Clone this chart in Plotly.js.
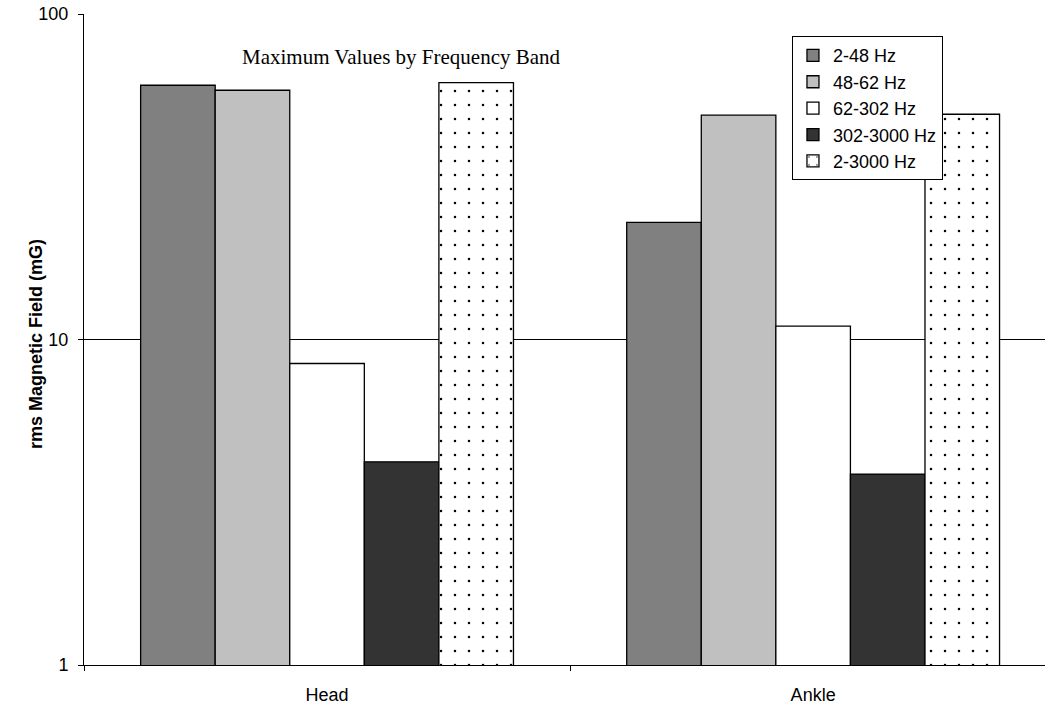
<!DOCTYPE html>
<html>
<head>
<meta charset="utf-8">
<script src="https://cdn.plot.ly/plotly-3.0.1.min.js"></script>
<style>
html,body{margin:0;padding:0;background:#fff;overflow:hidden;}
#chart{width:1045px;height:708px;}
</style>
</head>
<body>
<div id="chart"></div>
<script>
const categories = ["Head", "Ankle"];
const seriesNames = ["2-48 Hz", "48-62 Hz", "62-302 Hz", "302-3000 Hz", "2-3000 Hz"];
const band_2_48 = [60.4, 22.9];
const band_48_62 = [58.3, 48.9];
const band_62_302 = [8.44, 11.0];
const band_302_3000 = [4.21, 3.86];
const band_2_3000 = [61.5, 49.2];
const yTickVals = [1, 10, 100];
const yTickText = ["1", "10", "100"];
const chartTitle = "Maximum Values by Frequency Band";
const yTitle = "rms Magnetic Field (mG)";

const seriesValues = [band_2_48, band_48_62, band_62_302, band_302_3000, band_2_3000];
const fills = ["#808080", "#c0c0c0", "#ffffff", "#333333", "#ffffff"];

const traces = seriesValues.map((vals, i) => {
  const t = {
    type: "bar",
    name: seriesNames[i],
    x: categories,
    y: vals,
    marker: {color: fills[i], line: {color: "#000000", width: 1.3}},
    hoverinfo: "x+y+name"
  };
  if (i === 4) {
    t.marker.pattern = {shape: ".", fgcolor: "#000000", bgcolor: "#ffffff", size: 14, solidity: 0.025, fillmode: "replace"};
  }
  return t;
});

const font = "Liberation Sans, Arial, sans-serif";

const layout = {
  width: 1045,
  height: 708,
  margin: {l: 84, r: 0, t: 14, b: 43, pad: 0},
  paper_bgcolor: "#ffffff",
  plot_bgcolor: "#ffffff",
  barmode: "group",
  bargap: 0.233,
  bargroupgap: 0,
  showlegend: true,
  font: {family: font, size: 18, color: "#000000"},
  legend: {
    x: 0.7367, y: 0.966, xanchor: "left", yanchor: "top",
    bgcolor: "#ffffff", bordercolor: "#000000", borderwidth: 1,
    font: {family: font, size: 18, color: "#000000"},
    itemwidth: 30, tracegroupgap: 0, traceorder: "normal"
  },
  xaxis: {
    type: "category",
    range: [-0.5, 1.477],
    showline: true, linecolor: "#000000", linewidth: 1,
    ticks: "outside", tickson: "boundaries", ticklen: 5, tickcolor: "#000000", tickwidth: 1,
    ticklabelstandoff: 13,
    showgrid: false, zeroline: false,
    tickfont: {family: font, size: 18, color: "#000000"}
  },
  yaxis: {
    type: "log",
    range: [0, 2],
    tickvals: yTickVals,
    ticktext: yTickText,
    showline: true, linecolor: "#000000", linewidth: 1,
    ticks: "outside", ticklen: 5, tickcolor: "#000000", tickwidth: 1,
    ticklabelstandoff: 6,
    showgrid: true, gridcolor: "#000000", gridwidth: 1,
    zeroline: false,
    tickfont: {family: font, size: 18, color: "#000000"}
  },
  annotations: [{
    text: chartTitle,
    xref: "paper", yref: "paper",
    x: 0.33, y: 0.934,
    xanchor: "center", yanchor: "middle",
    showarrow: false,
    font: {family: "Liberation Serif, Times New Roman, serif", size: 21, color: "#000000"}
  }, {
    text: "<b>" + yTitle + "</b>",
    xref: "paper", yref: "paper",
    x: -0.05, y: 0.493,
    xanchor: "center", yanchor: "middle",
    textangle: -90,
    showarrow: false,
    font: {family: font, size: 18, color: "#000000"}
  }]
};

Plotly.newPlot("chart", traces, layout, {displayModeBar: false, staticPlot: true});
</script>
</body>
</html>
